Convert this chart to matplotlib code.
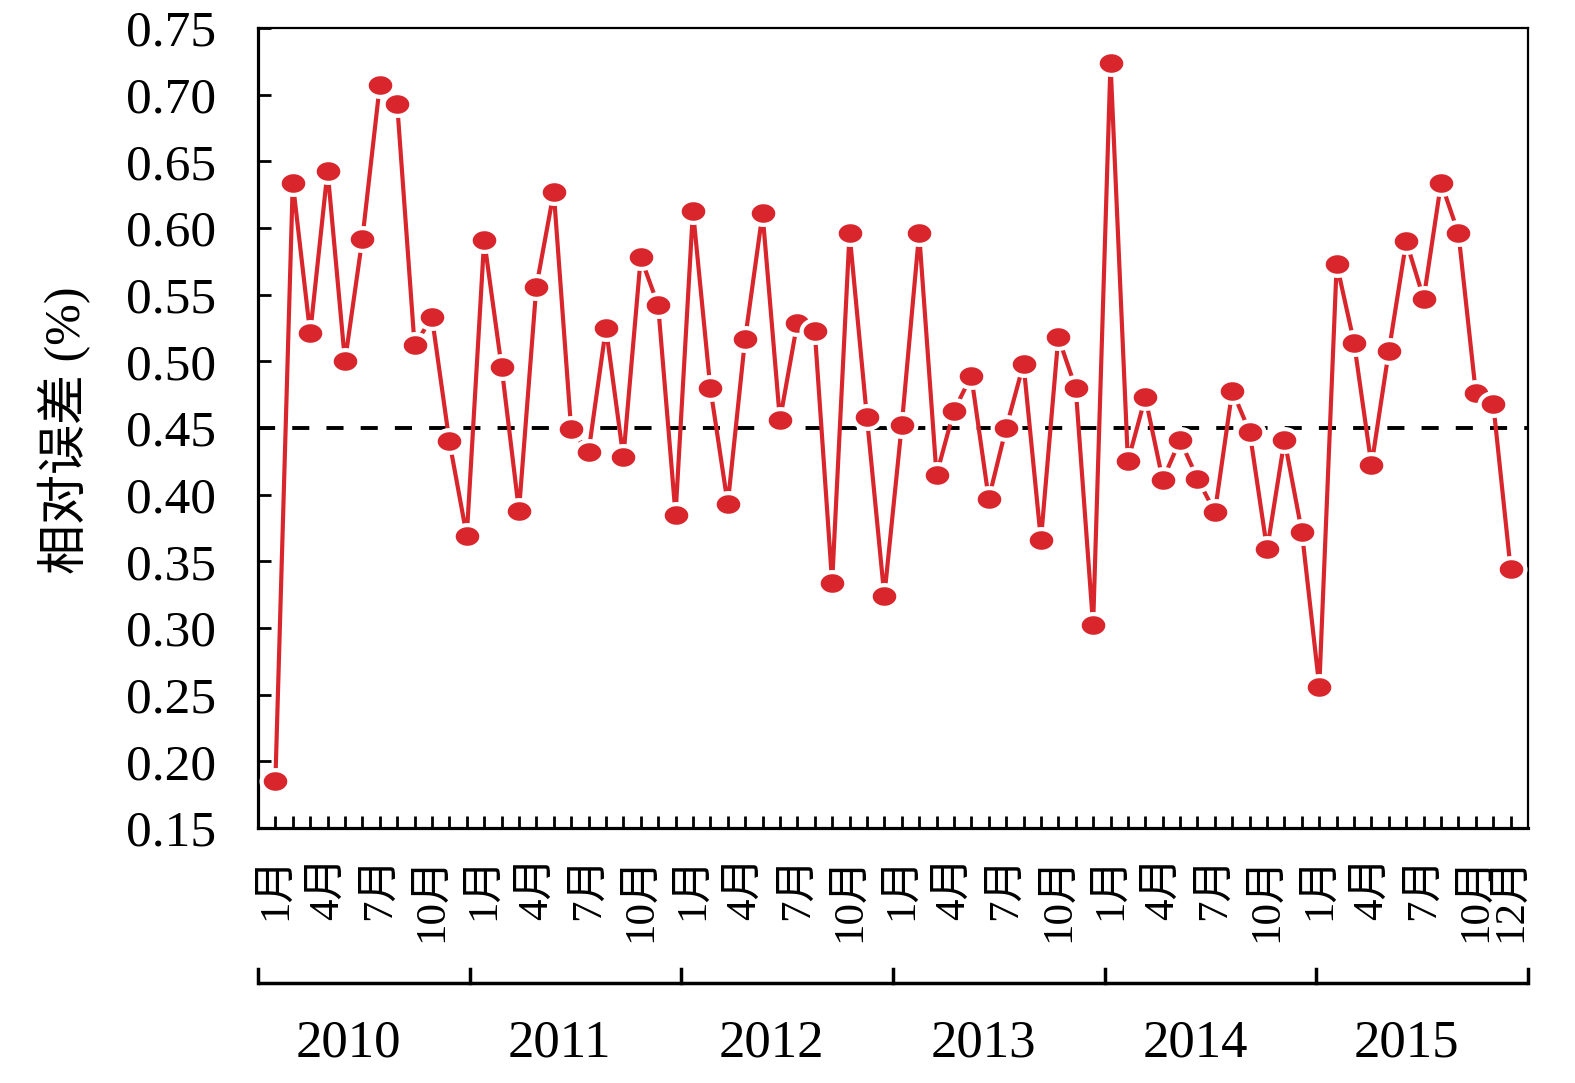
import numpy as np
import matplotlib.pyplot as plt
import matplotlib.transforms as mtransforms
from matplotlib.path import Path

plt.rcParams['font.family'] = ['Liberation Serif', 'Noto Sans CJK SC']

years = ['2010', '2011', '2012', '2013', '2014', '2015']
error_2010 = [0.185, 0.634, 0.521, 0.643, 0.500, 0.592, 0.707, 0.693, 0.512, 0.533, 0.440, 0.369]
error_2011 = [0.591, 0.496, 0.388, 0.556, 0.627, 0.449, 0.432, 0.525, 0.428, 0.578, 0.542, 0.385]
error_2012 = [0.613, 0.480, 0.393, 0.517, 0.611, 0.456, 0.529, 0.523, 0.334, 0.596, 0.458, 0.324]
error_2013 = [0.452, 0.596, 0.415, 0.463, 0.489, 0.397, 0.450, 0.498, 0.366, 0.518, 0.480, 0.302]
error_2014 = [0.724, 0.425, 0.473, 0.411, 0.441, 0.412, 0.387, 0.478, 0.447, 0.359, 0.441, 0.372]
error_2015 = [0.256, 0.573, 0.514, 0.422, 0.508, 0.590, 0.547, 0.634, 0.596, 0.476, 0.468, 0.344]
mean_error = 0.45
labelled_months = [1, 4, 7, 10]

values = error_2010 + error_2011 + error_2012 + error_2013 + error_2014 + error_2015
x = np.arange(len(values))

# month labels: 1,4,7,10 each year, plus 12 in the final year
labels = []
for yi in range(len(years)):
    for m in range(1, 13):
        if m in labelled_months or (yi == len(years) - 1 and m == 12):
            labels.append(f'{m}月')
        else:
            labels.append('')

# slightly flattened dot like the original
t = np.linspace(0, 2 * np.pi, 50)
ellipse = Path(np.column_stack([np.cos(t), 0.82 * np.sin(t)]), closed=True)

fig = plt.figure(figsize=(15.75, 10.83), dpi=100)
ax = fig.add_axes([0.1638, 0.2355, 0.8064, 0.7386])

red = '#d9262c'
ax.axhline(mean_error, color='black', ls=(0, (4.4, 4.4)), lw=2.8, zorder=1)
ax.plot(x, values, color=red, lw=3, marker=ellipse, markersize=20,
        markerfacecolor=red, markeredgecolor='white', markeredgewidth=3, zorder=3)

ax.set_xlim(-1, 72)
ax.set_ylim(0.15, 0.75)
yt = np.arange(0.15, 0.751, 0.05)
ax.set_yticks(yt)
ax.set_yticklabels([f'{v:.2f}' for v in yt], fontsize=37)
ax.set_xticks(x)
ax.set_xticklabels(labels, rotation=90, fontsize=31, va='top', ha='center')

# the last two labels sit close together, nudge them apart like the original
for lab, dx in [(ax.get_xticklabels()[69], -18), (ax.get_xticklabels()[71], -3)]:
    lab.set_transform(lab.get_transform() +
                      mtransforms.ScaledTranslation(dx / 100, 0, fig.dpi_scale_trans))

ax.tick_params(axis='both', direction='in', length=9, width=2)
ax.tick_params(axis='x', pad=20)
ax.tick_params(axis='y', pad=30)
for s in ['left', 'bottom']:
    ax.spines[s].set_linewidth(2.3)
for s in ['top', 'right']:
    ax.spines[s].set_linewidth(1.6)

# year bracket under the month labels
by = -0.194
ax.plot([0, 1], [by, by], transform=ax.transAxes, color='black', lw=2.5, clip_on=False,
        solid_capstyle='butt')
for k in range(len(years) + 1):
    ax.plot([k / 6, k / 6], [by, by + 0.018], transform=ax.transAxes, color='black',
            lw=2.5, clip_on=False)
for k, yr in enumerate(years):
    ax.text(k / 6 + 0.071, -0.269, yr, transform=ax.transAxes, ha='center', va='center',
            fontsize=38)

fig.text(0.041, 0.603, '相对误差 (%)', rotation=90, ha='center', va='center', fontsize=36)

fig.savefig('out.png', dpi=100)
